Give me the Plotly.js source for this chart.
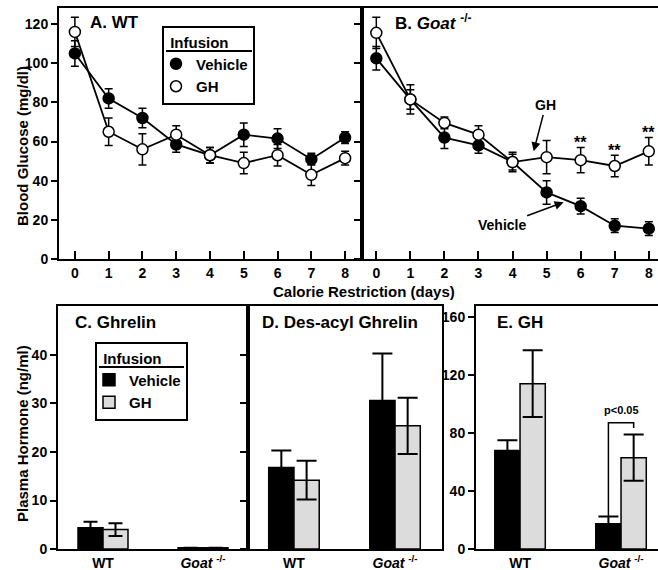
<!DOCTYPE html>
<html>
<head>
<meta charset="utf-8">
<script src="https://cdn.plot.ly/plotly-3.0.1.min.js"></script>
<style>html,body{margin:0;padding:0;background:#fff}#chart{width:658px;height:570px}</style>
</head>
<body>
<div id="chart"></div>
<script>
// ---- Data ----
const days = [0, 1, 2, 3, 4, 5, 6, 7, 8];
const wtVehicle      = [105, 82, 72, 58.5, 53, 63.5, 61.5, 51, 62];
const wtVehicleErr   = [6.5, 5, 5, 4, 4, 6, 5, 3, 3];
const wtGH           = [116, 65, 56, 63.5, 53, 49, 53, 43, 51.5];
const wtGHErr        = [7.5, 7, 8, 4.5, 4, 5.5, 5.5, 5.5, 3.5];
const goatVehicle    = [102.5, 81.5, 62, 58, 49.5, 34, 27, 17, 15.5];
const goatVehicleErr = [6, 5, 5.5, 4, 4, 6, 4, 3.5, 3.5];
const goatGH         = [115.5, 81.5, 69.5, 63.5, 49.5, 52, 50.5, 47.5, 55];
const goatGHErr      = [8, 7.5, 3, 4.5, 5, 8.5, 6.5, 5.5, 7];
const sigDays        = [6, 7, 8];

const genotypes = ['WT', '<i>Goat</i> <sup>-/-</sup>'];
const ghrelinVehicle    = [4.4, 0.25];
const ghrelinVehicleErr = [1.2, 0];
const ghrelinGH         = [4.0, 0.25];
const ghrelinGHErr      = [1.3, 0];
const desacylVehicle    = [16.8, 30.6];
const desacylVehicleErr = [3.5, 9.7];
const desacylGH         = [14.2, 25.4];
const desacylGHErr      = [4.0, 5.8];
const ghVehicle    = [68, 17.5];
const ghVehicleErr = [7, 5];
const ghGH         = [114, 63];
const ghGHErr      = [23, 16];

// ---- Styles ----
const FONT = 'Liberation Sans, Arial, Helvetica, sans-serif';
const BLACK = '#000';
const GREY = '#dcdcdc';
const gx = genotypes.map((g, i) => i);

function lineTrace(x, y, xa, ya) {
  return {x, y, xaxis: xa, yaxis: ya, mode: 'lines', type: 'scatter',
    line: {color: BLACK, width: 1.8}, showlegend: false, hoverinfo: 'skip'};
}
function markTrace(x, y, err, xa, ya, filled, name, showlegend) {
  return {x, y, xaxis: xa, yaxis: ya, mode: 'markers', type: 'scatter', name,
    legend: 'legend', showlegend,
    marker: {size: 11, color: filled ? BLACK : '#fff', line: {color: BLACK, width: 1.5}},
    error_y: {type: 'data', array: err, visible: true, color: BLACK, thickness: 1.5, width: 4}};
}
function barTrace(y, err, xa, ya, filled, name, showlegend, capw) {
  return {x: gx, y, xaxis: xa, yaxis: ya, type: 'bar', name, legend: 'legend2', showlegend,
    marker: {color: filled ? BLACK : GREY, line: {color: BLACK, width: 1.5}},
    error_y: {type: 'data', array: err, visible: true, color: BLACK, thickness: 2, width: capw}};
}

const traces = [
  lineTrace(days, wtVehicle, 'x', 'y'),
  lineTrace(days, wtGH, 'x', 'y'),
  markTrace(days, wtVehicle, wtVehicleErr, 'x', 'y', true, 'Vehicle', true),
  markTrace(days, wtGH, wtGHErr, 'x', 'y', false, 'GH', true),
  lineTrace(days, goatVehicle, 'x2', 'y2'),
  lineTrace(days, goatGH, 'x2', 'y2'),
  markTrace(days, goatVehicle, goatVehicleErr, 'x2', 'y2', true, 'Vehicle', false),
  markTrace(days, goatGH, goatGHErr, 'x2', 'y2', false, 'GH', false),
  barTrace(ghrelinVehicle, ghrelinVehicleErr, 'x3', 'y3', true, 'Vehicle', true, 7),
  barTrace(ghrelinGH, ghrelinGHErr, 'x3', 'y3', false, 'GH', true, 7),
  barTrace(desacylVehicle, desacylVehicleErr, 'x4', 'y4', true, 'Vehicle', false, 10),
  barTrace(desacylGH, desacylGHErr, 'x4', 'y4', false, 'GH', false, 10),
  barTrace(ghVehicle, ghVehicleErr, 'x5', 'y5', true, 'Vehicle', false, 10),
  barTrace(ghGH, ghGHErr, 'x5', 'y5', false, 'GH', false, 10)
];

const W = 658, H = 570;
const px = v => v / W;
const py = v => 1 - v / H;

const baseAxis = {showline: true, linewidth: 2, linecolor: BLACK, mirror: true,
  showgrid: false, zeroline: false, automargin: false, fixedrange: true,
  tickfont: {family: FONT, size: 14, color: BLACK, weight: 'bold'}};

const topX = Object.assign({}, baseAxis, {tickvals: days, ticks: 'inside', ticklen: 8, tickwidth: 2, tickcolor: BLACK});
const topY = Object.assign({}, baseAxis, {range: [0, 128.2], tickvals: [0, 20, 40, 60, 80, 100, 120],
  ticks: 'outside', ticklen: 6, tickwidth: 2, tickcolor: BLACK, domain: [py(259), py(8)]});
const botX = Object.assign({}, baseAxis, {tickvals: gx, ticktext: genotypes, ticks: ''});
const botY = Object.assign({}, baseAxis, {ticks: 'outside', ticklen: 6, tickwidth: 2, tickcolor: BLACK,
  domain: [py(549), py(306)]});

const ann = (text, x, y, size, extra) => Object.assign({text, x, y, xref: 'paper', yref: 'paper',
  showarrow: false, xanchor: 'left', yanchor: 'middle',
  font: {family: FONT, size, color: BLACK, weight: 'bold'}}, extra || {});

const annotations = [
  ann('A. WT', px(88), py(22), 17),
  ann('B. <i>Goat</i> <sup>-/-</sup>', px(393), py(22), 17),
  ann('C. Ghrelin', px(73), py(322), 17),
  ann('D. Des-acyl Ghrelin', px(260), py(322), 17),
  ann('E. GH', px(495), py(322), 17),
  ann('Calorie Restriction (days)', px(364), py(291), 15, {xanchor: 'center'}),
  ann('Blood Glucose (mg/dl)', px(22), py(146), 15, {xanchor: 'center', textangle: -90}),
  ann('Plasma Hormone (ng/ml)', px(22), py(434), 15, {xanchor: 'center', textangle: -90}),
  {text: 'GH', x: 4.62, y: 55, xref: 'x2', yref: 'y2', showarrow: true, ax: 12, ay: -46,
   arrowhead: 2, arrowsize: 1.2, arrowwidth: 1.5, arrowcolor: BLACK,
   font: {family: FONT, size: 14, color: BLACK, weight: 'bold'}},
  {text: 'Vehicle', x: 5.5, y: 29, xref: 'x2', yref: 'y2', showarrow: true, ax: -62, ay: 23,
   arrowhead: 2, arrowsize: 1.2, arrowwidth: 1.5, arrowcolor: BLACK,
   font: {family: FONT, size: 14, color: BLACK, weight: 'bold'}},
  {text: 'p&lt;0.05', x: 1, y: 96, xref: 'x5', yref: 'y5', showarrow: false,
   font: {family: FONT, size: 11, color: BLACK, weight: 'bold'}}
];
sigDays.forEach(d => {
  const i = days.indexOf(d);
  annotations.push({text: '**', x: d, y: goatGH[i] + goatGHErr[i] - 3, xref: 'x2', yref: 'y2',
    showarrow: false, yanchor: 'bottom', font: {family: FONT, size: 16, color: BLACK, weight: 'bold'}});
});

const bracketTop = 87;
const shapes = [
  {type: 'line', xref: 'paper', yref: 'paper', x0: px(166), x1: px(252), y0: py(51), y1: py(51),
   line: {color: BLACK, width: 2}},
  {type: 'line', xref: 'paper', yref: 'paper', x0: px(99), x1: px(184), y0: py(367), y1: py(367),
   line: {color: BLACK, width: 2}},
  {type: 'path', xref: 'x5', yref: 'y5',
   path: `M ${1 - 0.125} ${ghVehicle[1] + ghVehicleErr[1]} L ${1 - 0.125} ${bracketTop} L ${1 + 0.125} ${bracketTop} L ${1 + 0.125} ${bracketTop - 3.5}`,
   line: {color: BLACK, width: 1.5}}
];

const legendStyle = {bordercolor: BLACK, borderwidth: 2, bgcolor: 'rgba(0,0,0,0)', xanchor: 'left', yanchor: 'top',
  font: {family: FONT, size: 15, color: BLACK, weight: 'bold'},
  title: {text: '&nbsp;Infusion', font: {family: FONT, size: 15, color: BLACK, weight: 'bold'}},
  itemwidth: 30, tracegroupgap: 0, indentation: -8};

const layout = {
  width: W, height: H,
  margin: {l: 0, r: 0, t: 0, b: 0},
  paper_bgcolor: '#fff', plot_bgcolor: 'rgba(0,0,0,0)',
  font: {family: FONT, size: 14, color: BLACK, weight: 'bold'},
  showlegend: true,
  barmode: 'group', bargap: 0.5, bargroupgap: 0,
  xaxis:  Object.assign({}, topX, {domain: [px(59), px(362)], range: [-0.47, 8.5], anchor: 'y'}),
  yaxis:  Object.assign({}, topY, {anchor: 'x'}),
  xaxis2: Object.assign({}, topX, {domain: [px(362), 1], range: [-0.42, 8.27], anchor: 'y2'}),
  yaxis2: Object.assign({}, topY, {anchor: 'x2', showticklabels: false}),
  xaxis3: Object.assign({}, botX, {domain: [px(58), px(248)], range: [-0.45, 1.45], anchor: 'y3'}),
  yaxis3: Object.assign({}, botY, {range: [0, 50.1], tickvals: [0, 10, 20, 30, 40], anchor: 'x3'}),
  xaxis4: Object.assign({}, botX, {domain: [px(248), px(442)], range: [-0.455, 1.465], anchor: 'y4'}),
  yaxis4: Object.assign({}, botY, {range: [0, 50.1], tickvals: [0, 10, 20, 30, 40], anchor: 'x4', showticklabels: false}),
  xaxis5: Object.assign({}, botX, {domain: [px(476), 1], range: [-0.436, 1.366], anchor: 'y5'}),
  yaxis5: Object.assign({}, botY, {range: [0, 167.6], tickvals: [0, 40, 80, 120, 160], anchor: 'x5'}),
  legend: Object.assign({}, legendStyle, {x: px(162), y: py(26)}),
  legend2: Object.assign({}, legendStyle, {x: px(95), y: py(342)}),
  annotations, shapes
};

Plotly.newPlot('chart', traces, layout, {displayModeBar: false, staticPlot: true});
</script>
</body>
</html>
